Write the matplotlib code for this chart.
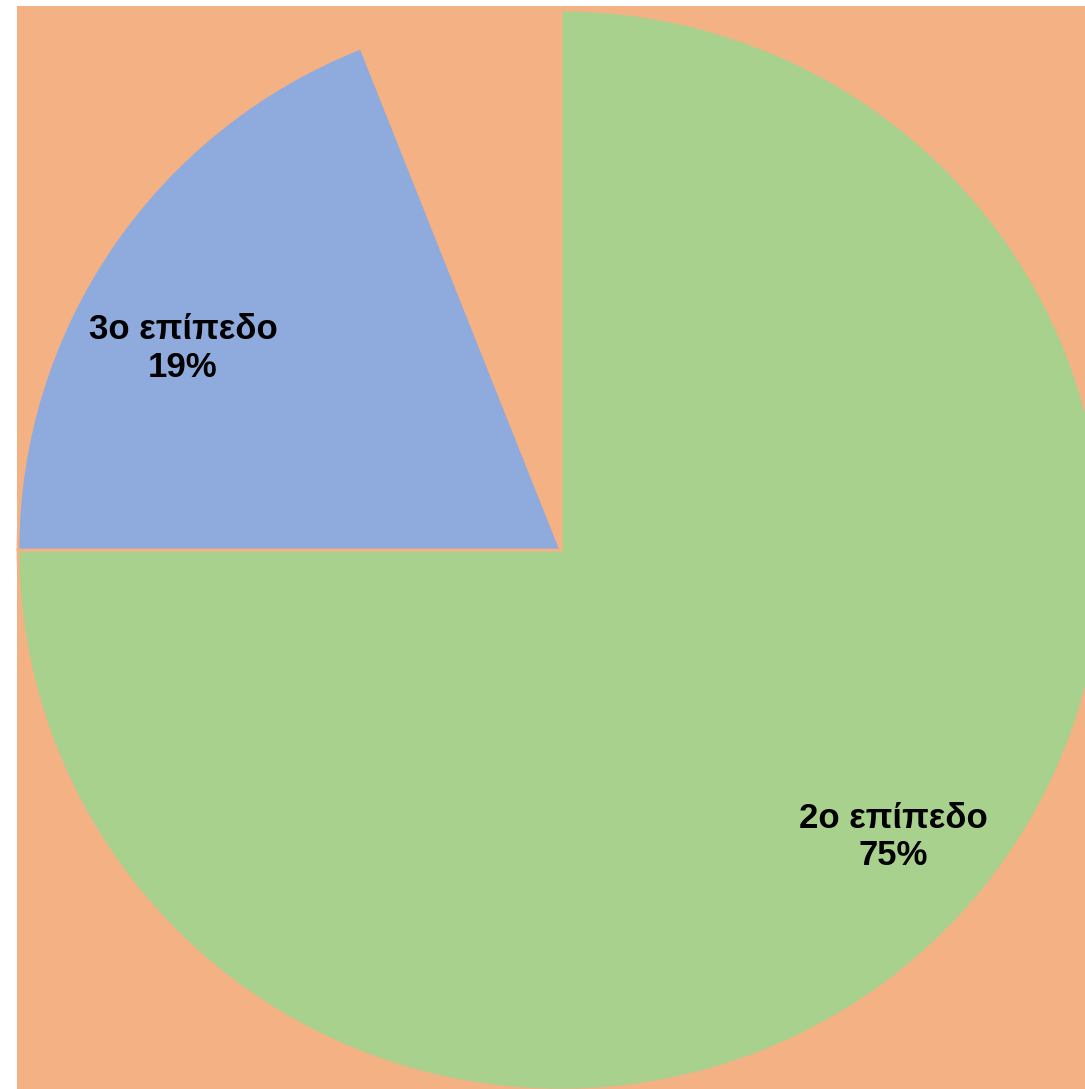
import numpy as np
import matplotlib
matplotlib.use("Agg")
import matplotlib.pyplot as plt

# slices, clockwise from 12 o'clock
labels = ["2ο επίπεδο", "3ο επίπεδο", "1ο επίπεδο"]
values = [75, 19, 6]
colors = ["#A9D18E", "#8FAADC", "#F4B183"]
show_label = [True, True, False]

bg = "#F4B183"

fig = plt.figure(figsize=(10.85, 10.89), dpi=100)
fig.patch.set_facecolor("white")

ax = fig.add_axes([17 / 1085, 0, 1068 / 1085, 1083 / 1089])

wedges, _ = ax.pie(values, colors=colors, startangle=90, counterclock=False,
                   wedgeprops=dict(edgecolor=bg, linewidth=2))

# label placement (distance from centre, angle shift in degrees)
label_dist = [0.81, 0.79]
label_shift = [4, 6]

for i, w in enumerate(wedges):
    if not show_label[i]:
        continue
    ang = np.deg2rad((w.theta1 + w.theta2) / 2 + label_shift[i])
    x = label_dist[i] * np.cos(ang)
    y = label_dist[i] * np.sin(ang)
    ax.text(x, y, f"{labels[i]}\n{values[i]}%", ha="center", va="center",
            fontsize=25, fontweight="bold", family="Liberation Sans",
            linespacing=1.16, color="black")

ax.set_frame_on(True)
for s in ax.spines.values():
    s.set_visible(False)
ax.patch.set_facecolor(bg)
ax.set_aspect("auto")
ax.set_xlim(-1.0018, 0.965)
ax.set_ylim(-0.998, 1.0074)
ax.set_xticks([])
ax.set_yticks([])

fig.savefig("out.png", dpi=100)
